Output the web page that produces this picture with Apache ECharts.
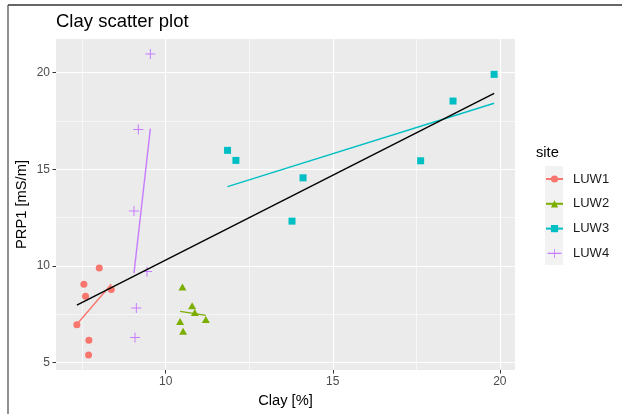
<!DOCTYPE html>
<html><head><meta charset="utf-8">
<script src="https://cdn.jsdelivr.net/npm/echarts@6/dist/echarts.min.js"></script>
<style>html,body{margin:0;padding:0;background:#fff}#c{width:622px;height:414px}</style>
</head><body><div id="c"></div>
<script>
// ---- data ----
const sites = ['LUW1', 'LUW2', 'LUW3', 'LUW4'];
const luw1Clay = [8.01, 7.55, 7.60, 8.37, 7.34, 7.70, 7.69];
const luw1PRP1 = [9.90, 9.05, 8.44, 8.79, 6.96, 6.16, 5.40];
const luw2Clay = [10.50, 10.79, 10.87, 11.20, 10.43, 10.52];
const luw2PRP1 = [8.92, 7.94, 7.60, 7.23, 7.13, 6.63];
const luw3Clay = [11.85, 12.10, 14.11, 13.78, 19.83, 18.60, 17.63];
const luw3PRP1 = [15.98, 15.46, 14.56, 12.32, 19.91, 18.53, 15.44];
const luw4Clay = [9.54, 9.18, 9.05, 9.44, 9.12, 9.08];
const luw4PRP1 = [20.96, 17.06, 12.85, 9.72, 7.83, 6.30];
const xTicks = [10, 15, 20];
const yTicks = [5, 10, 15, 20];
const xMinorGrid = [7.5, 12.5, 17.5];
const yMinorGrid = [7.5, 12.5, 17.5];

// ---- helpers ----
const FONT = 'Liberation Sans, Arial, sans-serif';
const colors = ['#F8766D', '#7CAE00', '#00BFC4', '#C77CFF'];
const plusPath = 'path://M4.5,0H5.5V10H4.5ZM0,4.5H10V5.5H0Z';
const plusLegendPath = 'path://M0,4.8H17V6.2H0ZM8,0H9V11H8Z';
const symbols = ['circle', 'triangle', 'rect', plusPath];
const symbolSizes = [7, [8, 7], 7, 10];
const groupsX = [luw1Clay, luw2Clay, luw3Clay, luw4Clay];
const groupsY = [luw1PRP1, luw2PRP1, luw3PRP1, luw4PRP1];

function zip(xs, ys) { return xs.map((x, i) => [x, ys[i]]); }
function lmLine(xs, ys) {
  const n = xs.length;
  const mx = xs.reduce((a, b) => a + b, 0) / n;
  const my = ys.reduce((a, b) => a + b, 0) / n;
  let sxy = 0, sxx = 0;
  for (let i = 0; i < n; i++) { sxy += (xs[i] - mx) * (ys[i] - my); sxx += (xs[i] - mx) ** 2; }
  const b = sxy / sxx, a = my - b * mx;
  const x0 = Math.min(...xs), x1 = Math.max(...xs);
  return [[x0, a + b * x0], [x1, a + b * x1]];
}
const allX = [].concat(...groupsX);
const allY = [].concat(...groupsY);
const xlo = Math.min(...allX), xhi = Math.max(...allX);
const ylo = Math.min(...allY), yhi = Math.max(...allY);
const xpad = (xhi - xlo) * 0.05, ypad = (yhi - ylo) * 0.05;

const series = [];
sites.forEach((s, i) => {
  series.push({
    type: 'line', name: s, data: lmLine(groupsX[i], groupsY[i]),
    showSymbol: false, symbol: symbols[i], silent: true,
    lineStyle: { color: colors[i], width: 1.4 },
    itemStyle: { color: colors[i] }, z: 3, animation: false
  });
});
sites.forEach((s, i) => {
  series.push({
    type: 'scatter', name: s, data: zip(groupsX[i], groupsY[i]),
    symbol: symbols[i], symbolSize: symbolSizes[i],
    itemStyle: { color: colors[i], opacity: 1 }, z: 2, animation: false
  });
});
series.push({
  type: 'line', name: 'all', data: lmLine(allX, allY), showSymbol: false, silent: true,
  lineStyle: { color: '#000', width: 1.4 }, itemStyle: { color: '#000' }, z: 4, animation: false
});
series.push({
  type: 'scatter', name: '__grid', data: [], silent: true, z: 1,
  markLine: {
    silent: true, symbol: 'none', animation: false, z: 1,
    label: { show: false },
    lineStyle: { color: '#ffffff', width: 0.6, type: 'solid' },
    emphasis: { disabled: true },
    data: xMinorGrid.map(v => ({ xAxis: v })).concat(yMinorGrid.map(v => ({ yAxis: v })))
  }
});

const axisCommon = {
  type: 'value',
  axisLine: { show: false },
  axisTick: { show: true, length: 3.5, lineStyle: { color: '#333333', width: 1 } },
  splitLine: { show: true, lineStyle: { color: '#ffffff', width: 1.2 } },
  nameLocation: 'middle',
  nameMoveOverlap: false,
  nameTextStyle: { fontSize: 14.7, color: '#000', fontFamily: FONT }
};

const chart = echarts.init(document.getElementById('c'), null, { renderer: 'canvas' });
chart.setOption({
  animation: false,
  backgroundColor: '#ffffff',
  title: [
    { text: 'Clay scatter plot', left: 56, top: 12.5, padding: 0,
      textStyle: { fontSize: 18.5, fontWeight: 'normal', color: '#000', fontFamily: FONT } },
    { text: 'site', left: 536, top: 145, padding: 0,
      textStyle: { fontSize: 14.7, fontWeight: 'normal', color: '#000', fontFamily: FONT } }
  ],
  grid: { left: 56, right: 107, top: 39, bottom: 44, show: true, backgroundColor: '#EBEBEB', borderWidth: 0, containLabel: false },
  xAxis: Object.assign({}, axisCommon, {
    min: xlo - xpad, max: xhi + xpad, name: 'Clay [%]', nameGap: 23.5,
    axisTick: Object.assign({}, axisCommon.axisTick, { customValues: xTicks }),
    axisLabel: { customValues: xTicks, margin: 6, fontSize: 12, color: '#4D4D4D', fontFamily: FONT }
  }),
  yAxis: Object.assign({}, axisCommon, {
    min: ylo - ypad, max: yhi + ypad, name: 'PRP1 [mS/m]', nameGap: 26.5,
    axisTick: Object.assign({}, axisCommon.axisTick, { customValues: yTicks }),
    axisLabel: { customValues: yTicks, margin: 6, fontSize: 12, color: '#4D4D4D', fontFamily: FONT }
  }),
  legend: {
    data: sites.map((s, i) => i === 3 ? { name: s, icon: plusLegendPath } : { name: s }),
    orient: 'vertical', left: 545, top: 172.5, padding: 0,
    itemWidth: 17, itemHeight: 9, itemGap: 11.8,
    selectedMode: false,
    textStyle: { fontSize: 13, color: '#1a1a1a', fontFamily: FONT, padding: [0, 0, 0, 5] }
  },
  graphic: [
    { type: 'rect', left: 545, top: 166, shape: { width: 18, height: 99 }, style: { fill: '#F2F2F2' }, z: -1, silent: true },
    { type: 'line', shape: { x1: 8, y1: 5, x2: 622, y2: 5 }, style: { stroke: '#333', lineWidth: 1.3 }, silent: true },
    { type: 'line', shape: { x1: 8, y1: 5, x2: 8, y2: 414 }, style: { stroke: '#555', lineWidth: 1.3 }, silent: true }
  ],
  series: series
});
</script>
</body></html>
